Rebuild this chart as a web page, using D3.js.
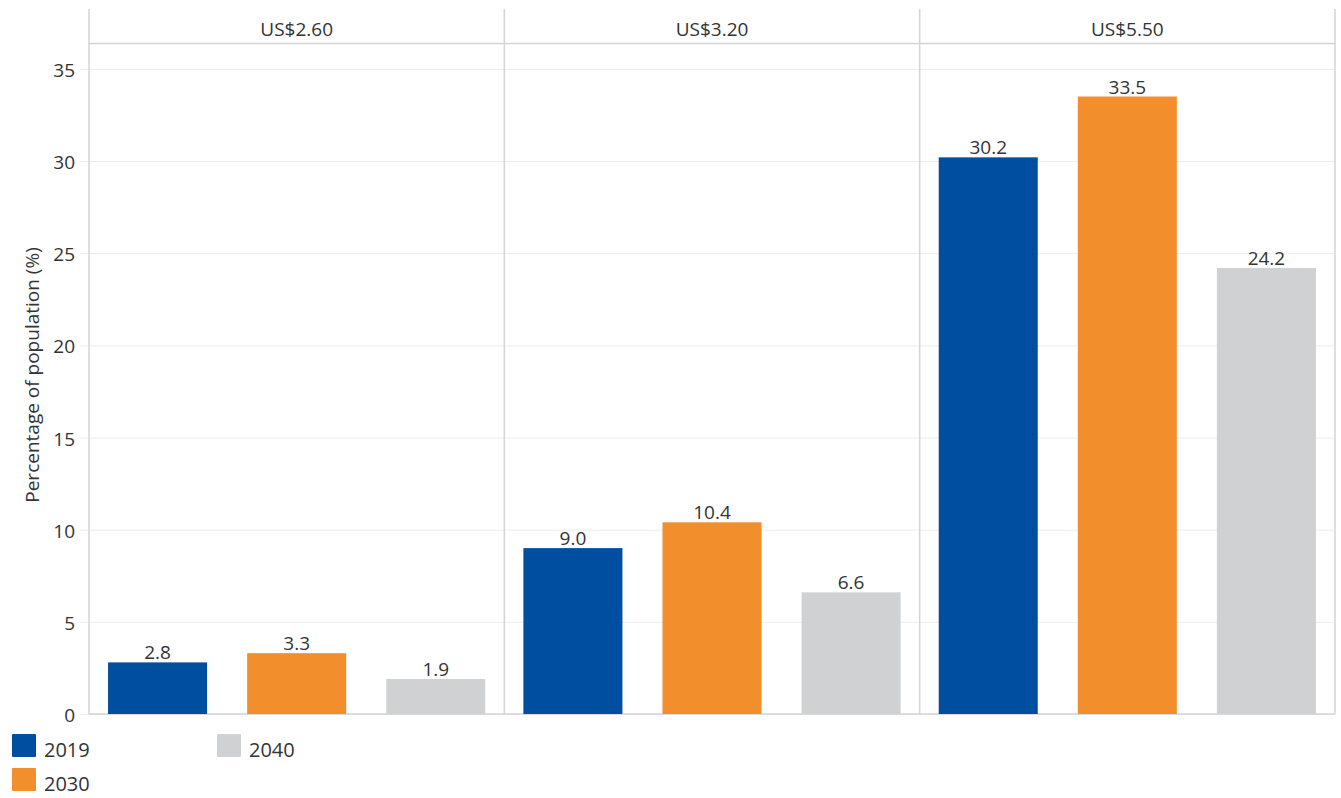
<!DOCTYPE html>
<html>
<head>
<meta charset="utf-8">
<script src="https://cdn.jsdelivr.net/npm/d3@7"></script>
<style>
body { margin: 0; background: #fff; }
text { font-family: "Open Sans", sans-serif; fill: #333; }
</style>
</head>
<body>
<div id="chart"></div>
<script>
// data
const lines = ["US$2.60", "US$3.20", "US$5.50"];
const years = ["2019", "2030", "2040"];
const v2019 = [2.8, 9.0, 30.2];
const v2030 = [3.3, 10.4, 33.5];
const v2040 = [1.9, 6.6, 24.2];
const yTicks = [0, 5, 10, 15, 20, 25, 30, 35];
const colors = ["#004ea0", "#f28f2c", "#d0d1d3"];

const series = [v2019, v2030, v2040];
const rows = [];
lines.forEach((l, i) => {
  years.forEach((y, j) => rows.push({ line: l, year: y, value: series[j][i] }));
});

let boxWidth = 1341;
let boxHeight = 798;
let margin = { top: 44, right: 6, bottom: 84, left: 89 };
let width = boxWidth - margin.left - margin.right;
let height = boxHeight - margin.top - margin.bottom;

let svg = d3.select("#chart").append("svg")
  .attr("width", boxWidth)
  .attr("height", boxHeight);

let g = svg.append("g")
  .attr("transform", `translate(${margin.left}, ${margin.top})`);

let x0 = d3.scaleBand().domain(lines).range([0, width]);
let x1 = d3.scaleBand().domain(years).range([0, x0.bandwidth()])
  .paddingInner(0.288).paddingOuter(0.137);
let y = d3.scaleLinear().domain([0, 36.35]).range([height, 0]);
let color = d3.scaleOrdinal().domain(years).range(colors);

// gridlines + y axis
let yAxis = d3.axisLeft(y).tickValues(yTicks).tickSize(-width).tickPadding(14);
let ya = g.append("g").call(yAxis);
ya.select(".domain").remove();
ya.selectAll(".tick line").attr("stroke", "#ececec").attr("x1", -9);
ya.selectAll(".tick text").attr("font-size", 19).attr("fill", "#333")
  .attr("font-family", "Open Sans, sans-serif").attr("dy", "0.4em");

// panel frames
g.append("line").attr("x1", 0).attr("x2", width)
  .attr("y1", -0.5).attr("y2", -0.5).attr("stroke", "#d4d4d4").attr("stroke-width", 1.5);
g.append("line").attr("x1", 0).attr("x2", width)
  .attr("y1", height).attr("y2", height).attr("stroke", "#d4d4d4").attr("stroke-width", 1.5);
let edges = lines.map(l => x0(l)).concat([width]);
g.selectAll(".sep").data(edges).enter().append("line")
  .attr("x1", d => d).attr("x2", d => d)
  .attr("y1", -35).attr("y2", height)
  .attr("stroke", "#d4d4d4").attr("stroke-width", 1.5);

// panel headers
g.selectAll(".hdr").data(lines).enter().append("text")
  .attr("x", d => x0(d) + x0.bandwidth() / 2)
  .attr("y", -8)
  .attr("text-anchor", "middle")
  .attr("font-size", 19)
  .text(d => d);

// bars
g.selectAll(".bar").data(rows).enter().append("rect")
  .attr("x", d => x0(d.line) + x1(d.year))
  .attr("y", d => y(d.value))
  .attr("width", x1.bandwidth())
  .attr("height", d => height - y(d.value))
  .attr("fill", d => color(d.year));

g.selectAll(".lbl").data(rows).enter().append("text")
  .attr("x", d => x0(d.line) + x1(d.year) + x1.bandwidth() / 2)
  .attr("y", d => y(d.value) - 3)
  .attr("text-anchor", "middle")
  .attr("font-size", 19)
  .text(d => d.value.toFixed(1));

// y axis title
g.append("text")
  .attr("transform", `translate(${39 - margin.left}, ${375 - margin.top}) rotate(-90)`)
  .attr("text-anchor", "middle")
  .attr("font-size", 19)
  .text("Percentage of population (%)");

// legend
let legendPos = [[12, 734], [12, 768], [217, 734]];
let lg = svg.selectAll(".leg").data(years).enter().append("g")
  .attr("transform", (d, i) => `translate(${legendPos[i][0]}, ${legendPos[i][1]})`);
lg.append("rect").attr("width", 24).attr("height", 23).attr("rx", 1)
  .attr("fill", d => color(d));
lg.append("text").attr("x", 32).attr("y", 23).attr("font-size", 20).text(d => d);
</script>
</body>
</html>
